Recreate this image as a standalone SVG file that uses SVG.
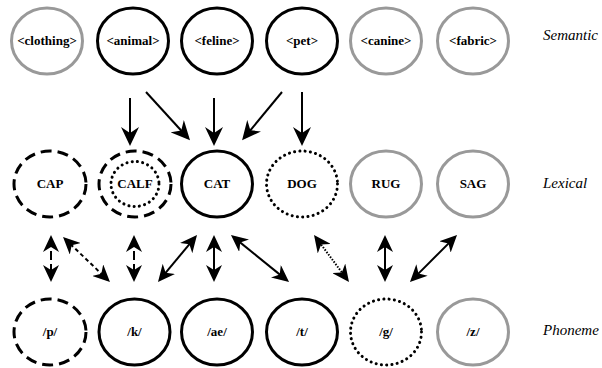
<svg xmlns="http://www.w3.org/2000/svg" width="602" height="368" viewBox="0 0 602 368">
<style>
.n{fill:none;stroke-width:3}
.on{stroke:#000}
.off{stroke:#999}
.dash{stroke:#000;stroke-dasharray:11 6}
.dot{stroke:#000;stroke-dasharray:0.1 5.2;stroke-linecap:round}
.t{font-family:'Liberation Serif','Tinos','Times New Roman','DejaVu Serif',serif;font-weight:bold;font-size:13px;text-anchor:middle;fill:#000}
.lab{font-family:'Liberation Serif','Tinos','Times New Roman','DejaVu Serif',serif;font-style:italic;font-size:15px;fill:#000}
.a{stroke:#000;stroke-width:2;fill:none}
.big{marker-end:url(#hb)}
.bi{marker-start:url(#h);marker-end:url(#h)}
</style>
<defs>
<marker id="hb" markerUnits="userSpaceOnUse" viewBox="0 0 19 18" markerWidth="19" markerHeight="18" refX="16" refY="9" orient="auto"><path d="M0,0 L19,9 L0,18 L6,9 z" fill="#000"/></marker>
<marker id="h" markerUnits="userSpaceOnUse" viewBox="0 0 17 16" markerWidth="17" markerHeight="16" refX="14" refY="8" orient="auto-start-reverse"><path d="M0,0 L17,8 L0,16 L5,8 z" fill="#000"/></marker>
</defs>
<g id="labels">
<text class="lab" x="543" y="40">Semantic</text>
<text class="lab" x="543" y="188">Lexical</text>
<text class="lab" x="543" y="335">Phoneme</text>
</g>
<g id="clothing"><ellipse class="n off" cx="47" cy="41" rx="35.5" ry="33"/><text class="t" x="47" y="45">&lt;clothing&gt;</text></g>
<g id="animal"><ellipse class="n on" cx="133" cy="41" rx="35.5" ry="33"/><text class="t" x="133" y="45">&lt;animal&gt;</text></g>
<g id="feline"><ellipse class="n on" cx="217" cy="41" rx="35.5" ry="33"/><text class="t" x="217" y="45">&lt;feline&gt;</text></g>
<g id="pet"><ellipse class="n on" cx="302" cy="41" rx="35.5" ry="33"/><text class="t" x="302" y="45">&lt;pet&gt;</text></g>
<g id="canine"><ellipse class="n off" cx="386" cy="41" rx="35.5" ry="33"/><text class="t" x="386" y="45">&lt;canine&gt;</text></g>
<g id="fabric"><ellipse class="n off" cx="473" cy="41" rx="35.5" ry="33"/><text class="t" x="473" y="45">&lt;fabric&gt;</text></g>

<g id="CAP"><ellipse class="n dash" cx="50" cy="184" rx="36" ry="33"/><text class="t" x="50" y="188">CAP</text></g>
<g id="CALF"><ellipse class="n dash" cx="135" cy="184" rx="36" ry="33"/><ellipse class="n dot" cx="135" cy="184" rx="24" ry="22.5"/><text class="t" x="135" y="188">CALF</text></g>
<g id="CAT"><ellipse class="n on" cx="217" cy="184" rx="35.5" ry="33"/><text class="t" x="217" y="188">CAT</text></g>
<g id="DOG"><ellipse class="n dot" cx="302" cy="184" rx="35.5" ry="33"/><text class="t" x="302" y="188">DOG</text></g>
<g id="RUG"><ellipse class="n off" cx="386" cy="184" rx="35.5" ry="33"/><text class="t" x="386" y="188">RUG</text></g>
<g id="SAG"><ellipse class="n off" cx="473" cy="184" rx="35.5" ry="33"/><text class="t" x="473" y="188">SAG</text></g>

<g id="p"><ellipse class="n dash" cx="50" cy="332" rx="36" ry="33"/><text class="t" x="50" y="336">/p/</text></g>
<g id="k"><ellipse class="n on" cx="134.5" cy="332" rx="35.5" ry="33"/><text class="t" x="134.5" y="336">/k/</text></g>
<g id="ae"><ellipse class="n on" cx="217" cy="332" rx="35.5" ry="33"/><text class="t" x="217" y="336">/ae/</text></g>
<g id="t"><ellipse class="n on" cx="302" cy="332" rx="35.5" ry="33"/><text class="t" x="302" y="336">/t/</text></g>
<g id="g"><ellipse class="n dot" cx="386" cy="332" rx="35.5" ry="33"/><text class="t" x="386" y="336">/g/</text></g>
<g id="z"><ellipse class="n off" cx="473" cy="332" rx="35.5" ry="33"/><text class="t" x="473" y="336">/z/</text></g>

<g id="connectors">
<line class="a big" x1="130" y1="98" x2="130" y2="143"/>
<line class="a big" x1="146" y1="92" x2="188" y2="138"/>
<line class="a big" x1="214" y1="98" x2="214" y2="143"/>
<line class="a big" x1="282" y1="92" x2="244" y2="138"/>
<line class="a big" x1="302" y1="92" x2="302" y2="143"/>

<line class="a bi" x1="51" y1="238" x2="51" y2="279" stroke-dasharray="9 4"/>
<line class="a bi" x1="65.2" y1="239.1" x2="107.8" y2="279.9" stroke-dasharray="4 3"/>
<line class="a bi" x1="134" y1="238" x2="134" y2="279" stroke-dasharray="9 4"/>
<line class="a bi" x1="195.1" y1="237.3" x2="159.9" y2="279.7"/>
<line class="a bi" x1="214" y1="238" x2="214" y2="279"/>
<line class="a bi" x1="233.3" y1="236.9" x2="286.7" y2="280.1"/>
<line class="a bi" x1="315.8" y1="237.4" x2="347.2" y2="279.6" stroke-dasharray="1.5 1.5"/>
<line class="a bi" x1="385" y1="238" x2="385" y2="279"/>
<line class="a bi" x1="454.9" y1="237.1" x2="412.1" y2="279.9"/>
</g>
</svg>
